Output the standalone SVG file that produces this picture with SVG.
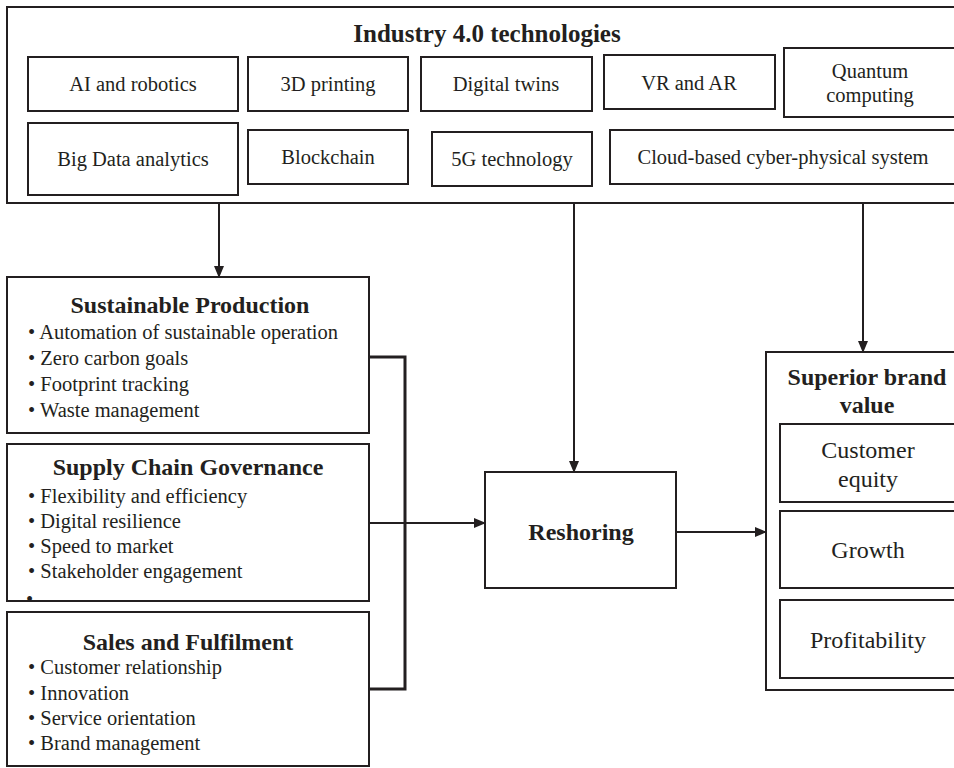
<svg xmlns="http://www.w3.org/2000/svg" width="954" height="768" viewBox="0 0 954 768">
<defs>
<marker id="ah" markerWidth="12" markerHeight="12" refX="11" refY="6" orient="auto" markerUnits="userSpaceOnUse">
<path d="M0,1 L12,6 L0,11 Z" fill="#231f20"/>
</marker>
<style>
rect{fill:#fff;stroke:#231f20;stroke-width:2}
text{fill:#231f20}
.t{font-size:20.5px;text-anchor:middle}
.b{font-size:24px;font-weight:bold;text-anchor:middle}
.r{font-size:24px;text-anchor:middle}
.l{font-size:20.5px}
.c{fill:none;stroke:#231f20;stroke-width:2}
.k{fill:none;stroke:#231f20;stroke-width:3}
</style>
</defs>
<rect width="954" height="768" style="fill:#fff;stroke:none"/>
<g font-family="Liberation Serif, Times New Roman, serif">
<g id="industry">
<rect x="7" y="7" width="960" height="196"/>
<text class="b" x="487" y="42" style="font-size:25px">Industry 4.0 technologies</text>
</g>
<g id="ai"><rect x="28" y="57" width="210" height="54"/><text class="t" x="133" y="91">AI and robotics</text></g>
<g id="print3d"><rect x="248" y="57" width="160" height="54"/><text class="t" x="328" y="91">3D printing</text></g>
<g id="twins"><rect x="421" y="57" width="171" height="54"/><text class="t" x="506" y="91">Digital twins</text></g>
<g id="vrar"><rect x="604" y="55" width="171" height="54"/><text class="t" x="689" y="90">VR and AR</text></g>
<g id="quantum"><rect x="784" y="48" width="190" height="69"/><text class="t" x="870" y="78">Quantum</text><text class="t" x="870" y="102">computing</text></g>
<g id="bigdata"><rect x="28" y="123" width="210" height="72"/><text class="t" x="133" y="166">Big Data analytics</text></g>
<g id="blockchain"><rect x="248" y="130" width="160" height="54"/><text class="t" x="328" y="164">Blockchain</text></g>
<g id="g5"><rect x="432" y="132" width="160" height="54"/><text class="t" x="512" y="166">5G technology</text></g>
<g id="cloud"><rect x="610" y="130" width="360" height="54"/><text class="t" x="783" y="164">Cloud-based cyber-physical system</text></g>

<g id="sustainable">
<rect x="7" y="277" width="362" height="156"/>
<text class="b" x="190" y="313">Sustainable Production</text>
<text class="l" x="28" y="339">• Automation of sustainable operation</text>
<text class="l" x="28" y="365">• Zero carbon goals</text>
<text class="l" x="28" y="391">• Footprint tracking</text>
<text class="l" x="28" y="417">• Waste management</text>
</g>
<g id="supply">
<rect x="7" y="444" width="362" height="157"/>
<text class="b" x="188" y="475">Supply Chain Governance</text>
<text class="l" x="28" y="503">• Flexibility and efficiency</text>
<text class="l" x="28" y="528">• Digital resilience</text>
<text class="l" x="28" y="553">• Speed to market</text>
<text class="l" x="28" y="578">• Stakeholder engagement</text>
<text class="l" x="26" y="606">•</text>
</g>
<g id="sales">
<rect x="7" y="612" width="362" height="154"/>
<text class="b" x="188" y="650">Sales and Fulfilment</text>
<text class="l" x="28" y="674">• Customer relationship</text>
<text class="l" x="28" y="700">• Innovation</text>
<text class="l" x="28" y="725">• Service orientation</text>
<text class="l" x="28" y="750">• Brand management</text>
</g>
<g id="reshoring">
<rect x="485" y="472" width="191" height="116"/>
<text class="b" x="581" y="540">Reshoring</text>
</g>
<g id="brand">
<rect x="766" y="352" width="200" height="338"/>
<text class="b" x="867" y="385">Superior brand</text>
<text class="b" x="867" y="413">value</text>
</g>
<g id="equity"><rect x="780" y="424" width="190" height="78"/><text class="r" x="868" y="458">Customer</text><text class="r" x="868" y="487">equity</text></g>
<g id="growth"><rect x="780" y="511" width="190" height="77"/><text class="r" x="868" y="558">Growth</text></g>
<g id="profit"><rect x="780" y="600" width="190" height="78"/><text class="r" x="868" y="648">Profitability</text></g>
</g>
<g id="connectors">
<line class="c" x1="219" y1="203" x2="219" y2="277" marker-end="url(#ah)"/>
<line class="c" x1="574" y1="203" x2="574" y2="472" marker-end="url(#ah)"/>
<line class="c" x1="863" y1="203" x2="863" y2="352" marker-end="url(#ah)"/>
<polyline class="k" points="369,357 405,357 405,689 369,689"/>
<line class="c" x1="369" y1="523" x2="485" y2="523" marker-end="url(#ah)"/>
<line class="c" x1="676" y1="532" x2="766" y2="532" marker-end="url(#ah)"/>
</g>
</svg>
